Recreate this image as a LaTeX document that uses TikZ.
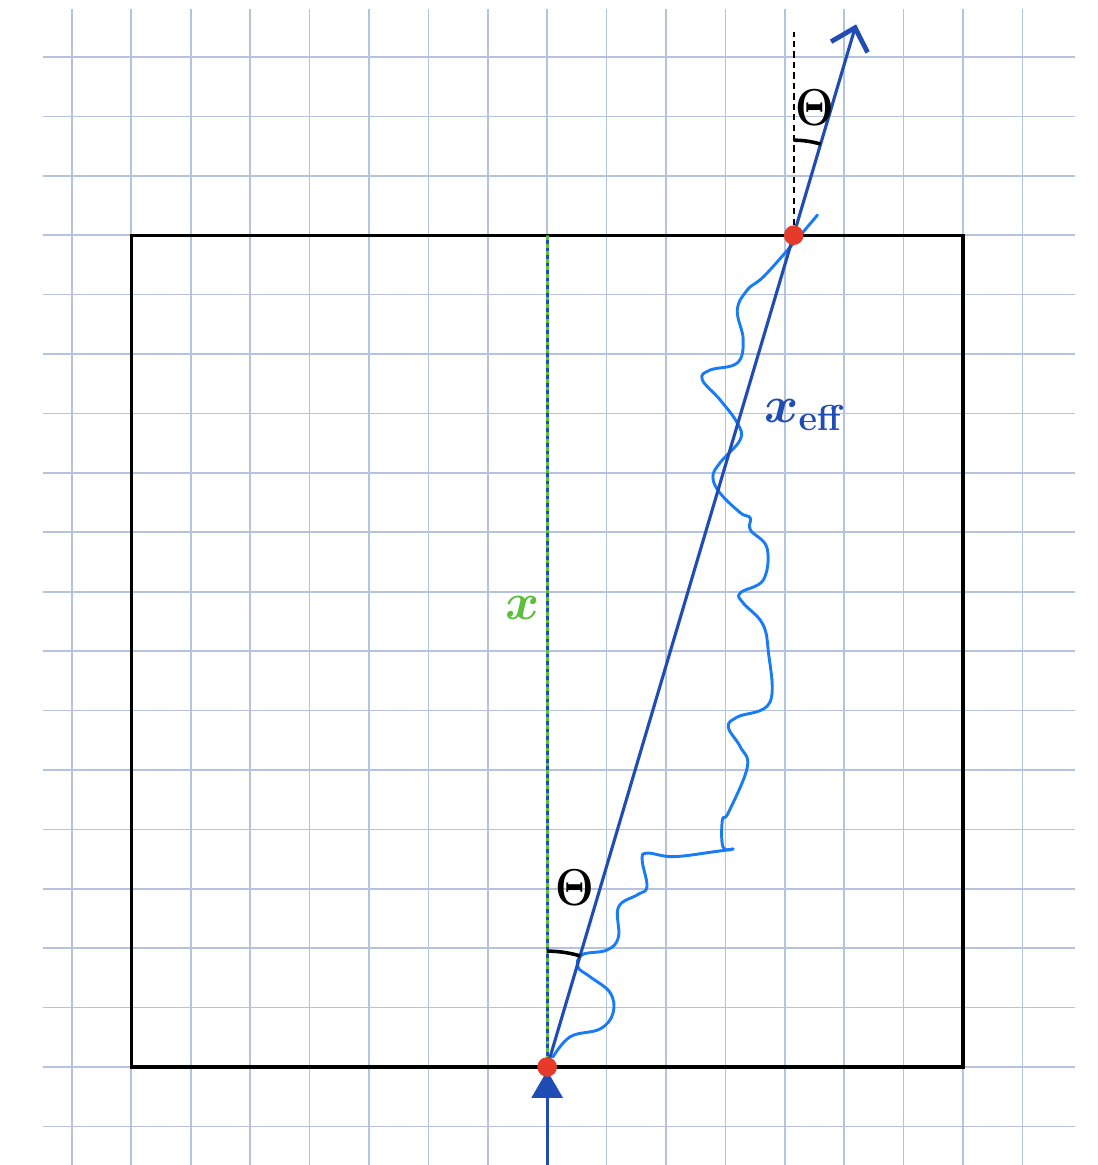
\documentclass[tikz,border=0pt]{standalone}
\usepackage{amsmath,amssymb}
\usepackage{xcolor}
\usepackage{tikz}
\usetikzlibrary{arrows.meta,calc}
\definecolor{gridblue}{HTML}{B4C4DF}
\definecolor{raydark}{HTML}{1F4DB5}
\definecolor{wavyblue}{HTML}{1A7CF5}
\definecolor{dotred}{HTML}{E63A2A}
\definecolor{pathgreen}{HTML}{5CBF3D}

\begin{document}
\begin{tikzpicture}[
  gridline/.style={draw=gridblue, line width=0.8pt},
  slab/.style={draw=black, line width=1.5pt},
  ray/.style={draw=raydark, line width=1.5pt},
  wave/.style={draw=wavyblue, line width=1.4pt, line cap=round, line join=round},
  dot/.style={circle, fill=dotred, inner sep=0pt, minimum size=3.3mm},
  anglemark/.style={draw=black, line width=1.7pt},
  theta/.style={font=\fontsize{25}{25}\selectfont, xscale=0.85},
  lbl/.style={inner sep=0pt}
]
\useasboundingbox (-9.21,-1.65) rectangle (9.26,17.96);
% squared paper
\foreach \i in {-8,...,8}
  \draw[gridline] (\i,-1.65) -- (\i,17.81);
\foreach \j in {-1,...,17}
  \draw[gridline] (-8.48,\j) -- (8.89,\j);
% slab
\draw[slab] (-7,0) rectangle (7,14);
% key points
\coordinate (entry) at (0,0);
\coordinate (exit) at (4.15,14);
\coordinate (straight) at (0,14);
\coordinate (source) at (0,-1.65);
\coordinate (tip) at (5.2,17.55);
\coordinate (normal) at (4.15,17.42);
% straight path x
\draw[ray, line width=1.5pt] (entry) -- (straight);
\draw[pathgreen, line width=1.5pt, dash pattern=on 1.8pt off 1.8pt] (entry) -- (straight);
% effective path
\draw[wave] plot[smooth, tension=0.65] coordinates {
  (0.10,0.17) (0.39,0.51) (0.89,0.64) (1.11,0.91) (1.06,1.25) (0.72,1.52)
  (0.52,1.68) (0.59,1.89) (1.01,1.97) (1.20,2.19) (1.20,2.69) (1.52,2.90)
  (1.68,3.03) (1.60,3.48) (1.68,3.60) (2.12,3.54) (2.79,3.62) (3.13,3.67)};
\draw[wave] plot[smooth, tension=0.65] coordinates {
  (3.13,3.67) (2.96,3.70) (2.95,4.16) (3.05,4.28) (3.37,5.05) (3.25,5.39)
  (3.05,5.72) (3.20,5.89) (3.75,6.14) (3.72,7.02) (3.62,7.47) (3.30,7.81)
  (3.25,7.98) (3.64,8.20) (3.70,8.74) (3.42,9.04) (3.42,9.24) (3.25,9.33)
  (2.91,9.66) (2.79,9.93) (2.91,10.17) (3.25,10.56) (3.20,10.84) (2.91,11.23)
  (2.61,11.57) (2.74,11.73) (3.20,11.85) (3.30,12.24) (3.20,12.74) (3.37,13.08)
  (3.64,13.30) (4.09,13.80) (4.55,14.34)};
% incoming beam and tilted ray
\draw[ray, -{Triangle[length=4.6mm,width=5.2mm]}, shorten >=0.6mm] (source) -- (entry);
\draw[ray, -{Straight Barb[length=3.4mm,width=6.4mm,line width=2.3pt]}] (entry) -- (tip);
\draw[black, line width=1.1pt, dash pattern=on 3pt off 2pt] (exit) -- (normal);
% angles
\draw[anglemark] ($(entry)+(0,1.95)$) arc[start angle=90, end angle=73.5, radius=1.95];
\draw[anglemark] ($(exit)+(0,1.6)$) arc[start angle=90, end angle=73.5, radius=1.6];
% dots
\node[dot] (entrydot) at (entry) {};
\node[dot] (exitdot) at (exit) {};
% labels
\node[lbl, theta] (thetalow) at (0.47,3.01) {$\boldsymbol{\Theta}$};
\node[lbl, theta] (thetahigh) at (4.5,16.15) {$\boldsymbol{\Theta}$};
\node[lbl, text=pathgreen, font=\fontsize{28}{28}\selectfont] (xlab) at (-0.42,7.73) {$\boldsymbol{x}$};
\node[lbl, text=raydark, font=\fontsize{24}{24}\selectfont] (xefflab) at (4.34,10.97) {$\boldsymbol{x}_{\mathbf{eff}}$};
\end{tikzpicture}
\end{document}
